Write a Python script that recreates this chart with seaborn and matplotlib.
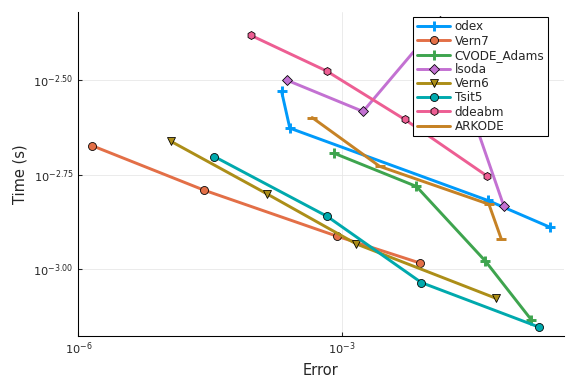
import numpy as np
import pandas as pd
import seaborn as sns
import matplotlib
matplotlib.use("Agg")
import matplotlib.pyplot as plt
from matplotlib.ticker import FixedLocator, FixedFormatter, NullLocator

# work-precision data (log10 values)
names = ["odex", "Vern7", "CVODE_Adams", "lsoda", "Vern6", "Tsit5", "ddeabm", "ARKODE"]
odex_err = [-3.686, -3.592, -1.336, -0.626]
odex_time = [-2.530, -2.627, -2.818, -2.889]
vern7_err = [-5.848, -4.567, -3.060, -2.113]
vern7_time = [-2.673, -2.791, -2.912, -2.983]
cvode_err = [-3.091, -2.150, -1.365, -0.842]
cvode_time = [-2.693, -2.781, -2.978, -3.133]
lsoda_err = [-3.629, -2.758, -1.885, -1.154]
lsoda_time = [-2.500, -2.583, -2.344, -2.833]
vern6_err = [-4.945, -3.857, -2.833, -1.248]
vern6_time = [-2.662, -2.800, -2.933, -3.076]
tsit5_err = [-4.453, -3.167, -2.093, -0.759]
tsit5_time = [-2.702, -2.860, -3.035, -3.152]
ddeabm_err = [-4.035, -3.174, -2.283, -1.342]
ddeabm_time = [-2.382, -2.476, -2.604, -2.754]
arkode_err = [-3.338, -2.568, -1.324, -1.183]
arkode_time = [-2.599, -2.728, -2.828, -2.920]

errs = [odex_err, vern7_err, cvode_err, lsoda_err, vern6_err, tsit5_err, ddeabm_err, arkode_err]
times = [odex_time, vern7_time, cvode_time, lsoda_time, vern6_time, tsit5_time, ddeabm_time, arkode_time]

colors = ["#009AFA", "#E36F47", "#3EA44E", "#C371D2", "#AC8E18", "#00A9AD", "#ED5E93", "#C68225"]
markers = ["+", "o", "+", "D", "v", "o", "h", "_"]

sns.set_style("white")
plt.rcParams["font.family"] = ["DejaVu Sans"]

fig = plt.figure(figsize=(6, 4), dpi=96)
ax = fig.add_axes([0.1354, 0.125, 0.8436, 0.844])

for name, e, t, c, m in zip(names, errs, times, colors, markers):
    df = pd.DataFrame({"err": 10 ** np.array(e), "time": 10 ** np.array(t)})
    if m in ("+", "_"):
        kw = dict(markersize=7, markeredgecolor=c, markeredgewidth=2.2)
    else:
        kw = dict(markersize=5.5 if m == "D" else 6, markeredgecolor="black", markeredgewidth=0.6)
    sns.lineplot(data=df, x="err", y="time", sort=False, ax=ax, color=c, lw=2.2,
                 marker=m, label=name, **kw)

ax.set_xscale("log")
ax.set_yscale("log")
ax.set_xlim(10 ** -6.005, 10 ** -0.47)
ax.set_ylim(10 ** -3.176, 10 ** -2.320)

ax.xaxis.set_major_locator(FixedLocator([1e-6, 1e-3]))
ax.xaxis.set_major_formatter(FixedFormatter([r"$10^{-6}$", r"$10^{-3}$"]))
ax.xaxis.set_minor_locator(NullLocator())
yt = [10 ** -3.0, 10 ** -2.75, 10 ** -2.5]
ax.yaxis.set_major_locator(FixedLocator(yt))
ax.yaxis.set_major_formatter(FixedFormatter([r"$10^{-3.00}$", r"$10^{-2.75}$", r"$10^{-2.50}$"]))
ax.yaxis.set_minor_locator(NullLocator())

ax.grid(True, color="#e6e6e6", lw=0.6)
for s in ["top", "right"]:
    ax.spines[s].set_visible(False)
for s in ["left", "bottom"]:
    ax.spines[s].set_color("black")
    ax.spines[s].set_linewidth(0.8)
ax.tick_params(direction="in", length=3, width=0.8, labelsize=8.5, left=True, bottom=True)

ax.set_xlabel("Error", fontsize=11)
ax.set_ylabel("Time (s)", fontsize=11)

leg = ax.legend(loc="upper right", bbox_to_anchor=(0.967, 0.985), borderaxespad=0,
                fontsize=9, frameon=True, fancybox=False, edgecolor="black", framealpha=1,
                borderpad=0.3, labelspacing=0.1, handlelength=2.8, handletextpad=0.35)
leg.get_frame().set_linewidth(0.8)

fig.savefig("out.png", dpi=96)
